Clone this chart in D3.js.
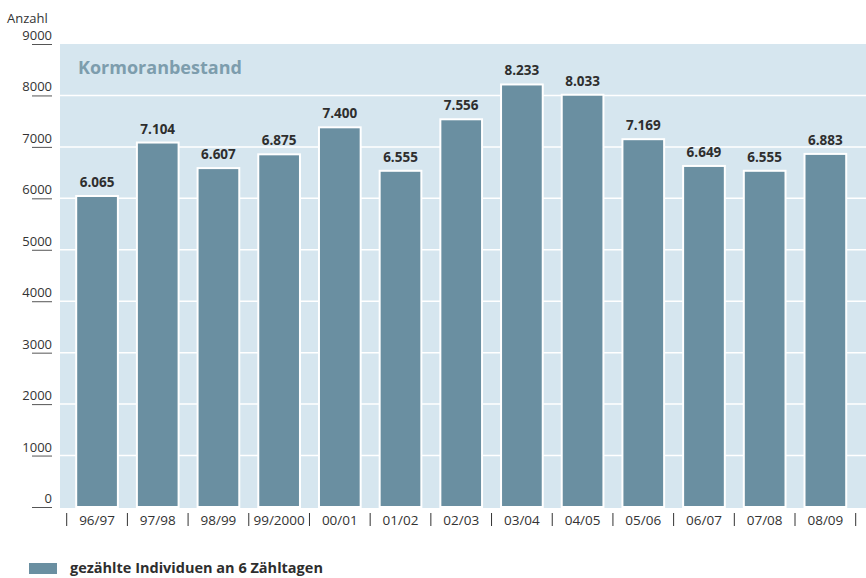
<!DOCTYPE html>
<html>
<head>
<meta charset="utf-8">
<script src="https://cdn.jsdelivr.net/npm/d3@7"></script>
<style>
  body { margin: 0; background: #fff; }
  text { font-family: "Open Sans", "DejaVu Sans", sans-serif; }
</style>
</head>
<body>
<div id="chart"></div>
<script>
// data
const seasons = ['96/97', '97/98', '98/99', '99/2000', '00/01', '01/02', '02/03',
  '03/04', '04/05', '05/06', '06/07', '07/08', '08/09'];
const counts = [6065, 7104, 6607, 6875, 7400, 6555, 7556, 8233, 8033, 7169, 6649, 6555, 6883];
const yTicks = [0, 1000, 2000, 3000, 4000, 5000, 6000, 7000, 8000, 9000];

const W = 866, H = 578;
const panel = { left: 60, right: 866, top: 44, bottom: 508 };

const svg = d3.select('#chart').append('svg')
  .attr('width', W)
  .attr('height', H);

const x = d3.scaleBand()
  .domain(seasons)
  .range([66.7, 855.7])
  .paddingInner(0.28)
  .paddingOuter(0.14);

const y = d3.scaleLinear()
  .domain([0, 9000])
  .range([507, 44]);

// background panel
svg.append('rect')
  .attr('x', panel.left)
  .attr('y', panel.top)
  .attr('width', panel.right - panel.left)
  .attr('height', panel.bottom - panel.top)
  .attr('fill', '#d6e6ef');

// white gridlines
svg.selectAll('.grid')
  .data(yTicks.filter(d => d > 0 && d < 9000))
  .enter().append('line')
  .attr('x1', panel.left)
  .attr('x2', panel.right)
  .attr('y1', d => y(d))
  .attr('y2', d => y(d))
  .attr('stroke', '#fff')
  .attr('stroke-width', 1.5);

// title
svg.append('text')
  .attr('x', 78)
  .attr('y', 74)
  .attr('fill', '#7d9dad')
  .attr('font-size', 18)
  .attr('font-weight', 'bold')
  .text('Kormoranbestand');

// bars
svg.selectAll('.bar')
  .data(counts)
  .enter().append('rect')
  .attr('class', 'bar')
  .attr('x', (d, i) => x(seasons[i]) + 1)
  .attr('width', x.bandwidth() - 2)
  .attr('y', d => y(d) + 1)
  .attr('height', d => y(0) - y(d) - 1)
  .attr('fill', '#6a8fa1')
  .attr('stroke', '#fff')
  .attr('stroke-width', 2);

// value labels
svg.selectAll('.lbl')
  .data(counts)
  .enter().append('text')
  .attr('x', (d, i) => x(seasons[i]) + x.bandwidth() / 2)
  .attr('y', d => y(d) - 8)
  .attr('text-anchor', 'middle')
  .attr('font-size', 13.5)
  .attr('font-weight', 'bold')
  .attr('fill', '#2e2e2e')
  .text(d => d3.format(',')(d).replace(',', '.'));

// left axis: short tick strokes with labels above
const yAxis = svg.append('g');
yAxis.selectAll('line')
  .data(yTicks)
  .enter().append('line')
  .attr('x1', 32)
  .attr('x2', 52)
  .attr('y1', d => y(d) + 0.5)
  .attr('y2', d => y(d) + 0.5)
  .attr('stroke', '#555')
  .attr('stroke-width', 1);
yAxis.selectAll('text')
  .data(yTicks)
  .enter().append('text')
  .attr('x', 52)
  .attr('y', d => y(d) - 4)
  .attr('text-anchor', 'end')
  .attr('font-size', 13)
  .attr('fill', '#333')
  .text(d => d);

svg.append('text')
  .attr('x', 7)
  .attr('y', 23)
  .attr('font-size', 13)
  .attr('fill', '#333')
  .text('Anzahl');

// bottom axis: separators between bands
const step = x.step();
const seps = d3.range(seasons.length + 1).map(i => x(seasons[0]) - (step - x.bandwidth()) / 2 + i * step);
svg.selectAll('.sep')
  .data(seps)
  .enter().append('line')
  .attr('x1', d => d)
  .attr('x2', d => d)
  .attr('y1', 513)
  .attr('y2', 526)
  .attr('stroke', '#333')
  .attr('stroke-width', 1);

svg.selectAll('.xl')
  .data(seasons)
  .enter().append('text')
  .attr('x', d => x(d) + x.bandwidth() / 2)
  .attr('y', 525)
  .attr('text-anchor', 'middle')
  .attr('font-size', 13.5)
  .attr('fill', '#333')
  .text(d => d);

// legend
svg.append('rect')
  .attr('x', 29)
  .attr('y', 563)
  .attr('width', 28)
  .attr('height', 11)
  .attr('fill', '#6a8fa1');
svg.append('text')
  .attr('x', 70)
  .attr('y', 573)
  .attr('font-size', 14.5)
  .attr('font-weight', 'bold')
  .attr('fill', '#2e2e2e')
  .text('gezählte Individuen an 6 Zähltagen');
</script>
</body>
</html>
